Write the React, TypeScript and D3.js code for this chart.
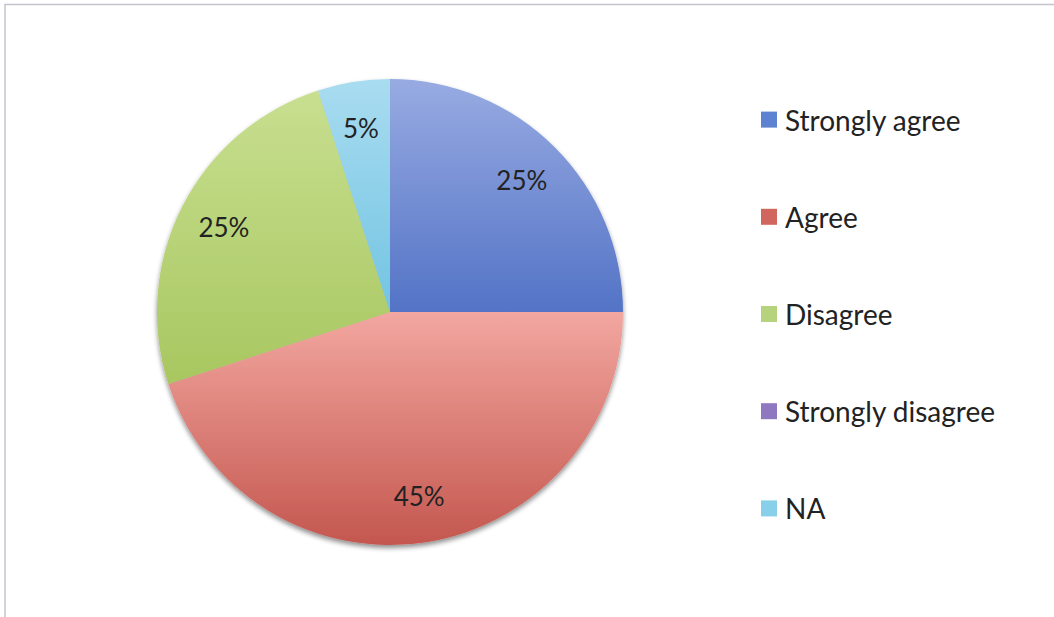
import React, { useEffect, useRef } from "react";
import * as d3 from "d3";

const categories = ["Strongly agree", "Agree", "Disagree", "Strongly disagree", "NA"];
const values = [25, 45, 25, 0, 5];
const labels = ["25%", "45%", "25%", "", "5%"];
const topColors = ["#98abe2", "#f2a7a0", "#c8df90", "#a593c9", "#a9dcf0"];
const bottomColors = ["#5373c6", "#c4574f", "#a8c760", "#7c61a6", "#72c4e2"];
const legendColors = ["#5e82d2", "#d0665d", "#b5d37c", "#8f78bf", "#88cfe9"];

export default function App() {
  const ref = useRef<SVGSVGElement>(null);
  useEffect(() => {
    const W = 1054, H = 617;
    const svg = d3.select(ref.current);
    svg.selectAll("*").remove();
    svg.attr("width", W).attr("height", H);
    svg.append("rect").attr("width", W).attr("height", H).attr("fill", "#ffffff");
    svg.append("rect").attr("x", 5).attr("y", 4.5).attr("width", 1100).attr("height", 800)
      .attr("fill", "none").attr("stroke", "#c4c4cc").attr("stroke-width", 1.5);

    const cx = 390, cy = 312, R = 233;
    const defs = svg.append("defs");
    const f = defs.append("filter").attr("id", "sh").attr("x", "-10%").attr("y", "-10%").attr("width", "120%").attr("height", "125%");
    f.append("feGaussianBlur").attr("in", "SourceAlpha").attr("stdDeviation", 2.5);
    f.append("feOffset").attr("dx", 0).attr("dy", 2.5).attr("result", "ob");
    f.append("feComponentTransfer").append("feFuncA").attr("type", "linear").attr("slope", 0.45);
    const m = f.append("feMerge");
    m.append("feMergeNode");
    m.append("feMergeNode").attr("in", "SourceGraphic");

    categories.forEach((c, i) => {
      const g = defs.append("linearGradient").attr("id", "g" + i)
        .attr("gradientUnits", "objectBoundingBox").attr("x1", 0).attr("y1", 0).attr("x2", 0).attr("y2", 1);
      g.append("stop").attr("offset", "0%").attr("stop-color", topColors[i]);
      g.append("stop").attr("offset", "100%").attr("stop-color", bottomColors[i]);
    });

    const data = categories.map((c, i) => ({ c, v: values[i], l: labels[i], i }));
    const pie = d3.pie<any>().value((d) => d.v).sort(null);
    const arcs = pie(data);
    const arc = d3.arc<any>().innerRadius(0).outerRadius(R);
    const lab = d3.arc<any>().innerRadius(R * 0.8).outerRadius(R * 0.8);

    const g = svg.append("g").attr("transform", `translate(${cx},${cy})`);
    const pg = g.append("g").attr("filter", "url(#sh)");
    pg.selectAll("path").data(arcs.filter((a) => a.data.v > 0)).join("path")
      .attr("d", arc as any)
      .attr("fill", (d) => `url(#g${d.data.i})`);

    g.selectAll("text").data(arcs.filter((a) => a.data.v > 0)).join("text")
      .attr("x", (d) => lab.centroid(d)[0])
      .attr("y", (d) => lab.centroid(d)[1])
      .attr("text-anchor", "middle").attr("dominant-baseline", "central")
      .attr("font-family", "Lato, 'Open Sans', sans-serif").attr("font-size", 26)
      .attr("fill", "#222").text((d) => d.data.l);

    const lg = svg.append("g");
    const ly = d3.scaleBand<string>().domain(categories).range([71, 557]);
    categories.forEach((c, i) => {
      const y = (ly(c) as number) + ly.bandwidth() / 2;
      lg.append("rect").attr("x", 761).attr("y", y - 8).attr("width", 16).attr("height", 16).attr("fill", legendColors[i]);
      lg.append("text").attr("x", 785).attr("y", y).attr("dominant-baseline", "central")
        .attr("font-family", "Lato, 'Open Sans', sans-serif").attr("font-size", 28)
        .attr("fill", "#222").text(c);
    });
  }, []);
  return <svg ref={ref} style={{ position: "absolute", left: 0, top: 0 }} />;
}
